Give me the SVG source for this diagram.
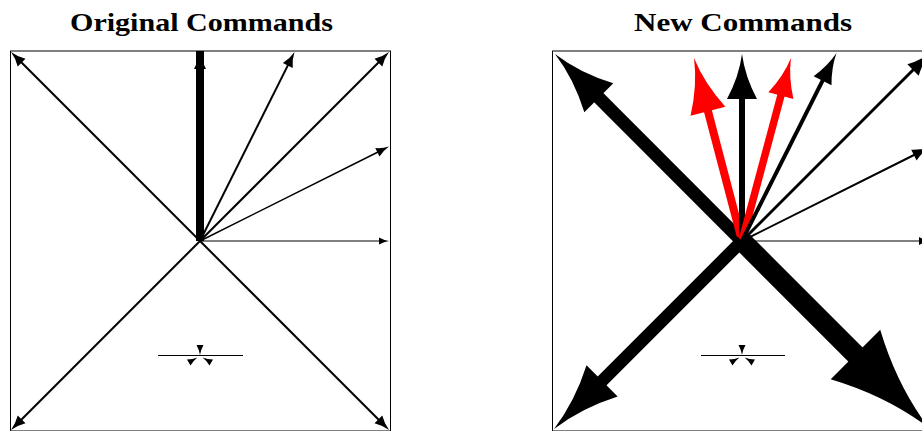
<svg xmlns="http://www.w3.org/2000/svg" xmlns:xlink="http://www.w3.org/1999/xlink" width="922" height="431" viewBox="0 0 922 431">
<style>
.t{font-family:"Liberation Serif","DejaVu Serif",serif;font-weight:bold;font-size:25px;fill:#000}
.fr{fill:none;stroke:#000;stroke-width:1}
.k line{stroke:#000;stroke-linecap:butt}
.k use{fill:#000}
.r line{stroke:#f00;stroke-linecap:butt}
.r use{fill:#f00}
.tk{stroke:#000;stroke-width:1}
</style>
<defs>
<path id="h" d="M0,0 Q-0.5,0.1 -1,0.5 L-1,-0.5 Q-0.5,-0.1 0,0 Z"/>
</defs>
<rect width="922" height="431" fill="#fff"/>
<g id="titles">
<text class="t" x="201.5" y="31" text-anchor="middle" textLength="263" lengthAdjust="spacingAndGlyphs">Original Commands</text>
<text class="t" x="743" y="31" text-anchor="middle" textLength="218" lengthAdjust="spacingAndGlyphs">New Commands</text>
</g>
<g id="frame-left"><rect class="fr" x="10.5" y="51" width="380" height="380"/></g>
<g id="frame-right"><rect class="fr" x="552.5" y="51" width="380" height="380"/></g>
<g id="connectors-left" class="k">
<g transform="translate(11,52) rotate(-135)"><line x1="-267.3" y1="0" x2="-13.5" y2="0" stroke-width="2"/><use xlink:href="#h" transform="scale(15,11)"/></g>
<g transform="translate(389,52) rotate(-45)"><line x1="-267.3" y1="0" x2="-13.5" y2="0" stroke-width="2"/><use xlink:href="#h" transform="scale(15,11)"/></g>
<g transform="translate(11,430) rotate(135)"><line x1="-267.3" y1="0" x2="-13.5" y2="0" stroke-width="2"/><use xlink:href="#h" transform="scale(15,11)"/></g>
<g transform="translate(389,430) rotate(45)"><line x1="-267.3" y1="0" x2="-13.5" y2="0" stroke-width="2"/><use xlink:href="#h" transform="scale(15,11)"/></g>
<g transform="translate(294.5,52) rotate(-63.435)"><line x1="-211.3" y1="0" x2="-13.5" y2="0" stroke-width="2"/><use xlink:href="#h" transform="scale(15,11)"/></g>
<g transform="translate(389,146.5) rotate(-26.565)"><line x1="-211.3" y1="0" x2="-11.7" y2="0" stroke-width="1.5"/><use xlink:href="#h" transform="scale(13,9.5)"/></g>
<g transform="translate(389,241)"><line x1="-189" y1="0" x2="-9" y2="0" stroke-width="1"/><use xlink:href="#h" transform="scale(10,7)"/></g>
<g transform="translate(200,51) rotate(-90)"><line x1="-190" y1="0" x2="0" y2="0" stroke-width="8"/><use xlink:href="#h" transform="translate(-1,0) scale(17,12)"/></g>
</g>
<g id="connectors-right">
<g class="k" transform="translate(555,54) rotate(-135)"><line x1="-264.5" y1="0" x2="-55.8" y2="0" stroke-width="13"/><use xlink:href="#h" transform="scale(62,41)"/></g>
<g class="r" transform="translate(694,58) rotate(-104.7)"><line x1="-189.2" y1="0" x2="-49.5" y2="0" stroke-width="8"/><use xlink:href="#h" transform="scale(55,36)"/></g>
<g class="k" transform="translate(742,54) rotate(-90)"><line x1="-187" y1="0" x2="-40.5" y2="0" stroke-width="6"/><use xlink:href="#h" transform="scale(45,30)"/></g>
<g class="r" transform="translate(791,58) rotate(-75)"><line x1="-189.4" y1="0" x2="-35" y2="0" stroke-width="7.5"/><use xlink:href="#h" transform="scale(39,26)"/></g>
<g class="k" transform="translate(836.5,53) rotate(-63.3)"><line x1="-210.4" y1="0" x2="-27.9" y2="0" stroke-width="4"/><use xlink:href="#h" transform="scale(31,20)"/></g>
<g class="k" transform="translate(930,53) rotate(-45)"><line x1="-265.9" y1="0" x2="-21.6" y2="0" stroke-width="3"/><use xlink:href="#h" transform="scale(24,16)"/></g>
<g class="k" transform="translate(930,147) rotate(-26.565)"><line x1="-210.2" y1="0" x2="-16.2" y2="0" stroke-width="2"/><use xlink:href="#h" transform="scale(18,12)"/></g>
<g class="k" transform="translate(931,241)"><line x1="-189" y1="0" x2="-10.8" y2="0" stroke-width="1"/><use xlink:href="#h" transform="scale(12,8)"/></g>
<g class="k" transform="translate(554,429) rotate(135)"><line x1="-265.9" y1="0" x2="-61" y2="0" stroke-width="12.5"/><use xlink:href="#h" transform="scale(68,44)"/></g>
<g class="k" transform="translate(929,428) rotate(45)"><line x1="-264.5" y1="0" x2="-93.6" y2="0" stroke-width="20"/><use xlink:href="#h" transform="scale(104,70)"/></g>
</g>
<g id="symbol-left" class="k">
<line class="tk" x1="158" y1="355.5" x2="243" y2="355.5"/>
<use xlink:href="#h" transform="translate(200,355) rotate(90) scale(10,7)"/>
<use xlink:href="#h" transform="translate(197.4,357.5) rotate(-30) scale(10,7)"/>
<use xlink:href="#h" transform="translate(202.6,357.5) rotate(-150) scale(10,7)"/>
</g>
<g id="symbol-right" class="k">
<line class="tk" x1="701" y1="355.5" x2="785" y2="355.5"/>
<use xlink:href="#h" transform="translate(742,355) rotate(90) scale(10,7)"/>
<use xlink:href="#h" transform="translate(739.4,357.5) rotate(-30) scale(10,7)"/>
<use xlink:href="#h" transform="translate(744.6,357.5) rotate(-150) scale(10,7)"/>
</g>
</svg>
